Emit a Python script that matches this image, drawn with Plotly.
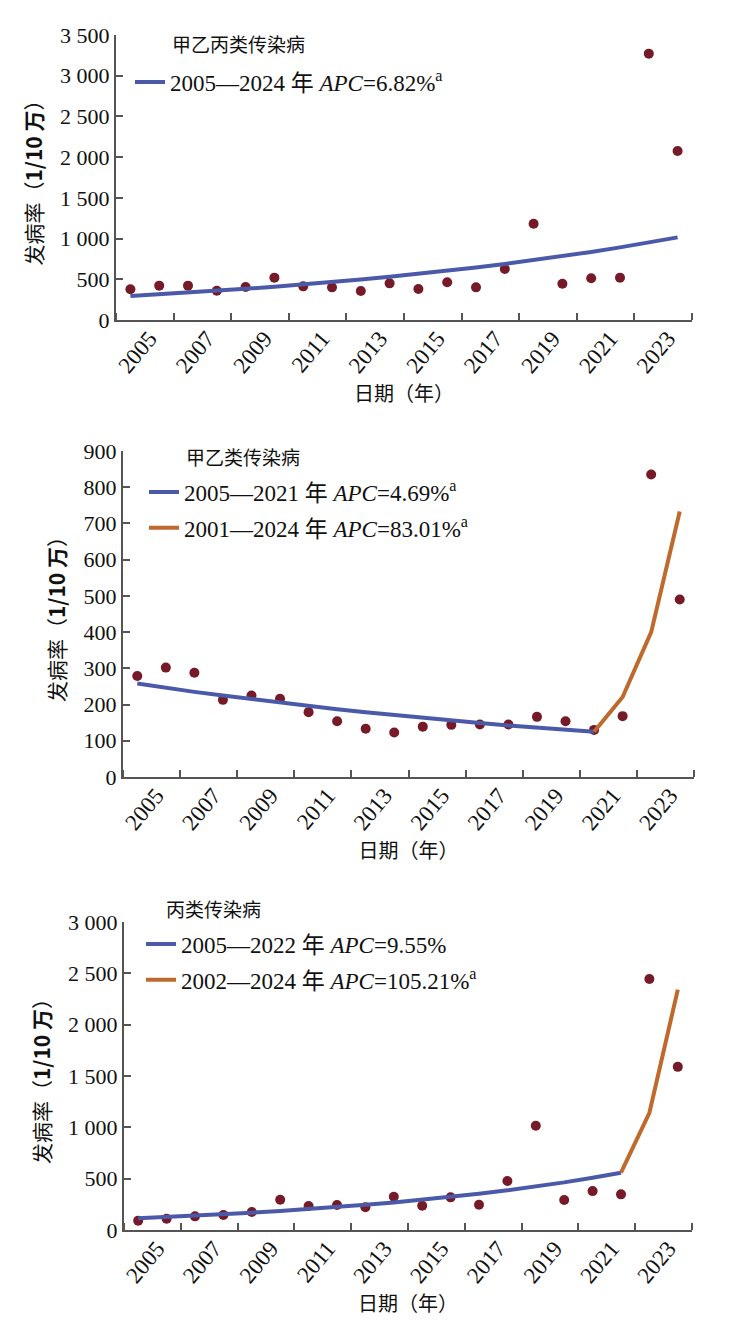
import plotly.graph_objects as go
from plotly.subplots import make_subplots

# years of the series (20 points per panel)
years = list(range(2005, 2025))

# tick labels under the x axis
tick_vals = list(range(2005, 2024, 2))
tick_text = [str(y) for y in tick_vals]

# panel 1: 甲乙丙类传染病
p1_obs = [377, 422, 422, 360, 405, 520, 413, 401, 356, 450,
          381, 463, 401, 626, 1183, 446, 512, 520, 3271, 2076]
p1_fit = [295, 315, 336, 359, 383, 409, 436, 465, 497, 530,
          566, 604, 645, 688, 734, 783, 836, 892, 952, 1015]

# panel 2: 甲乙类传染病
p2_obs = [279, 302, 288, 213, 225, 216, 179, 154, 133, 123,
          139, 144, 145, 145, 166, 154, 130, 168, 835, 490]
p2_fit1_years = list(range(2005, 2022))
p2_fit1 = [258, 246, 235, 225, 215, 205, 196, 187, 179, 171,
           163, 156, 149, 142, 136, 130, 125]
p2_fit2_years = [2021, 2022, 2023, 2024]
p2_fit2 = [125, 221, 400, 733]

# panel 3: 丙类传染病
p3_obs = [91, 110, 133, 146, 175, 295, 234, 243, 221, 324,
          237, 318, 246, 477, 1015, 292, 379, 347, 2445, 1589]
p3_fit1_years = list(range(2005, 2023))
p3_fit1 = [114, 126, 139, 153, 168, 185, 203, 223, 245, 268,
           294, 322, 353, 387, 424, 464, 509, 558]
p3_fit2_years = [2022, 2023, 2024]
p3_fit2 = [558, 1142, 2341]

panel_titles = ["甲乙丙类传染病", "甲乙类传染病", "丙类传染病"]

BLUE = "#4b5aa8"
ORANGE = "#bf6a2c"
DOT = "#761a27"
AXIS = "#555555"
SERIF = "Liberation Serif, Noto Sans CJK SC"
CJK = "Noto Sans CJK SC"

fig = make_subplots(rows=3, cols=1)

def dots(y, row):
    fig.add_trace(go.Scatter(x=years, y=y, mode="markers",
                             marker=dict(color=DOT, size=10),
                             showlegend=False), row=row, col=1)

def fit(x, y, name, color, row, legend, group):
    fig.add_trace(go.Scatter(x=x, y=y, mode="lines", name=name,
                             line=dict(color=color, width=4),
                             legend=legend, legendgroup=group),
                  row=row, col=1)

dots(p1_obs, 1)
fit(years, p1_fit, "2005—2024 年 <i>APC</i>=6.82%<sup>a</sup>", BLUE, 1, "legend", "a")

dots(p2_obs, 2)
fit(p2_fit1_years, p2_fit1, "2005—2021 年 <i>APC</i>=4.69%<sup>a</sup>", BLUE, 2, "legend2", "b")
fit(p2_fit2_years, p2_fit2, "2001—2024 年 <i>APC</i>=83.01%<sup>a</sup>", ORANGE, 2, "legend2", "c")

dots(p3_obs, 3)
fit(p3_fit1_years, p3_fit1, "2005—2022 年 <i>APC</i>=9.55%", BLUE, 3, "legend3", "d")
fit(p3_fit2_years, p3_fit2, "2002—2024 年 <i>APC</i>=105.21%<sup>a</sup>", ORANGE, 3, "legend3", "e")

# panel placement: page pixels, the page body adds an 8px offset
OFF = 8
W, H = 738 - OFF, 1334 - OFF
def px_x(x):
    return (x - OFF) / W
def px_y(y):
    return 1 - (y - OFF) / H

xdom = [(116, 692), (123, 694), (124, 692)]
ydom = [(35, 320), (451, 777), (922, 1230)]
yrng = [(0, 3500, 500), (0, 900, 100), (0, 3000, 500)]
title_pos = [(170, 43), (184, 456), (164, 908)]
legend_pos = [(130, 82), (144, 510), (141, 962)]

for i in range(3):
    r = i + 1
    fig.update_xaxes(row=r, col=1, automargin=False,
                     domain=[px_x(xdom[i][0]), px_x(xdom[i][1])],
                     range=[2004.5, 2024.5],
                     tickmode="array", tickvals=tick_vals, ticktext=tick_text,
                     tickangle=-50, ticks="", ticklabelshift=19,
                     ticklabelstandoff=-6,
                     minor=dict(tick0=2004.5, dtick=2, ticks="inside",
                                ticklen=7, tickwidth=2, tickcolor=AXIS),
                     showline=True, linecolor=AXIS, linewidth=2,
                     showgrid=False, zeroline=False,
                     tickfont=dict(family=SERIF, size=23, color="#111"),
                     title=dict(text="日期（年）", standoff=4,
                                font=dict(family=CJK, size=20, color="#111")))
    fig.update_yaxes(row=r, col=1, automargin=False,
                     domain=[px_y(ydom[i][1]), px_y(ydom[i][0])],
                     range=[yrng[i][0], yrng[i][1]], dtick=yrng[i][2],
                     tickformat=",d",
                     ticks="inside", ticklen=7, tickwidth=2, tickcolor=AXIS,
                     showline=True, linecolor=AXIS, linewidth=2,
                     showgrid=False, zeroline=False,
                     tickfont=dict(family=SERIF, size=22, color="#111"),
                     title=dict(text="发病率（<b>1/10 万</b>）", standoff=12,
                                font=dict(family=CJK, size=21, color="#111")))
    fig.add_annotation(text=panel_titles[i], xref="paper", yref="paper",
                       x=px_x(title_pos[i][0]), y=px_y(title_pos[i][1]),
                       xanchor="left", yanchor="middle", showarrow=False,
                       font=dict(family=CJK, size=19, color="#111"))

leg_common = dict(bgcolor="rgba(0,0,0,0)", xanchor="left", yanchor="middle",
                  font=dict(family=SERIF, size=23, color="#111"),
                  traceorder="grouped", tracegroupgap=3)

fig.update_layout(
    width=W, height=H,
    margin=dict(l=0, r=0, t=0, b=0),
    paper_bgcolor="white", plot_bgcolor="white",
    separators=". ",
    showlegend=True,
    legend=dict(x=px_x(legend_pos[0][0]), y=px_y(legend_pos[0][1]), **leg_common),
    legend2=dict(x=px_x(legend_pos[1][0]), y=px_y(legend_pos[1][1]), **leg_common),
    legend3=dict(x=px_x(legend_pos[2][0]), y=px_y(legend_pos[2][1]), **leg_common),
)

fig.write_html("out.html")
